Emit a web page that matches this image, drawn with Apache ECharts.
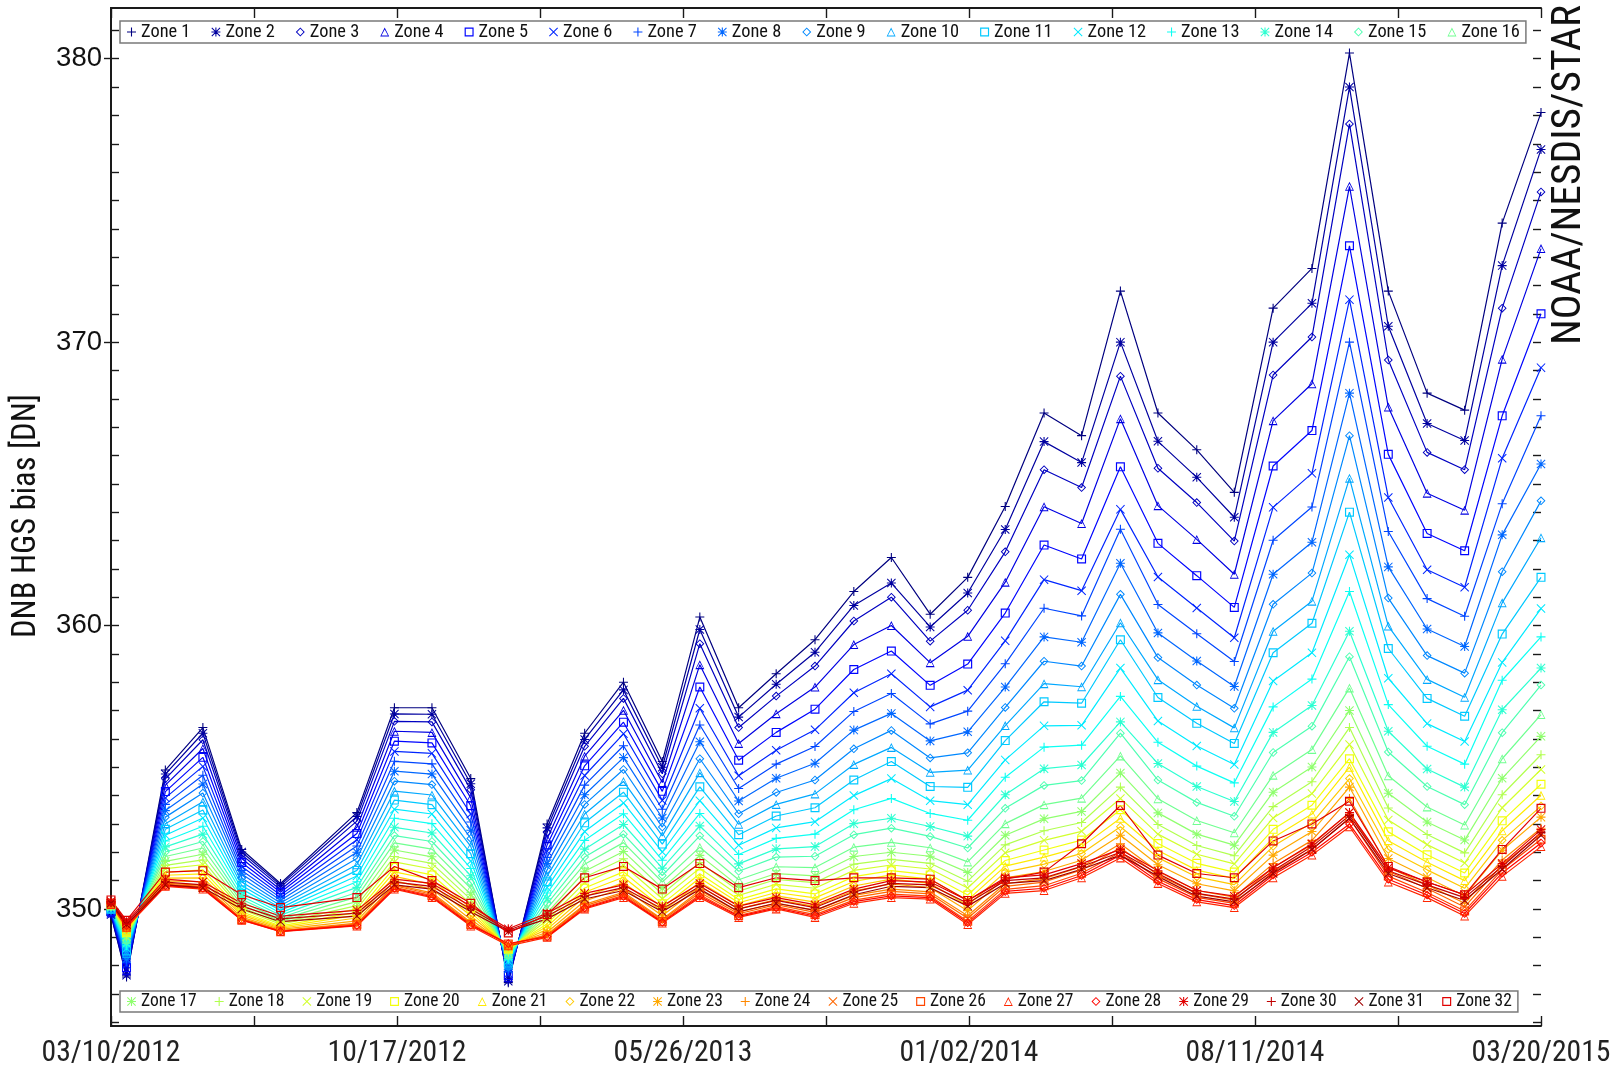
<!DOCTYPE html>
<html>
<head>
<meta charset="utf-8">
<title>DNB HGS bias by zone</title>
<script src="https://cdn.jsdelivr.net/npm/echarts@6/dist/echarts.min.js"></script>
<style>
  html, body { margin: 0; padding: 0; background: #fff; }
  #chart { width: 1614px; height: 1069px; }
</style>
</head>
<body>
<div id="chart"></div>
<script>
// ---- Data: HGS dark-offset bias [DN] per new-moon calibration pass, zones 1..32 ----
const passDates = [
  '2012-03-10','2012-03-22','2012-04-21','2012-05-20','2012-06-19','2012-07-19','2012-09-16',
  '2012-10-15','2012-11-13','2012-12-13','2013-01-11','2013-02-10','2013-03-11','2013-04-10',
  '2013-05-10','2013-06-08','2013-07-08','2013-08-06','2013-09-05','2013-10-05','2013-11-03',
  '2013-12-03','2014-01-01','2014-01-30','2014-03-01','2014-03-30','2014-04-29','2014-05-28',
  '2014-06-27','2014-07-26','2014-08-25','2014-09-24','2014-10-23','2014-11-22','2014-12-22',
  '2015-01-20','2015-02-18','2015-03-20'
];

const b_2012_03_10 = [349.78,349.8,349.85,349.86,349.9,349.91,349.93,349.95,349.96,349.99,350,350.03,350.04,350.06,350.09,350.1,350.11,350.12,350.14,350.15,350.16,350.17,350.18,350.19,350.2,350.21,350.16,350.22,350.26,350.24,350.2,350.32];
const b_2012_03_22 = [347.6,347.66,347.74,347.83,347.93,348.03,348.13,348.23,348.33,348.43,348.52,348.61,348.7,348.79,348.87,348.94,349.01,349.08,349.13,349.18,349.23,349.27,349.32,349.36,349.38,349.4,349.35,349.42,349.55,349.5,349.45,349.6];
const b_2012_04_21 = [354.9,354.76,354.59,354.37,354.14,353.92,353.69,353.47,353.24,353.01,352.81,352.6,352.4,352.19,352.01,351.85,351.68,351.54,351.42,351.29,351.19,351.09,350.99,350.9,350.87,350.84,350.8,350.82,351.05,350.95,350.85,351.3];
const b_2012_05_20 = [356.4,356.2,355.97,355.66,355.35,355.03,354.72,354.41,354.09,353.78,353.49,353.21,352.92,352.64,352.38,352.15,351.93,351.73,351.56,351.38,351.24,351.1,350.96,350.84,350.8,350.76,350.7,350.73,350.95,350.85,350.75,351.35];
const b_2012_06_19 = [352.1,352.01,351.91,351.78,351.64,351.5,351.36,351.23,351.09,350.95,350.83,350.7,350.58,350.45,350.34,350.24,350.14,350.05,349.98,349.9,349.84,349.78,349.71,349.66,349.65,349.63,349.6,349.61,350.2,350.1,350,350.5];
const b_2012_07_19 = [350.9,350.84,350.77,350.68,350.59,350.49,350.4,350.31,350.21,350.12,350.03,349.95,349.86,349.78,349.7,349.63,349.57,349.51,349.46,349.4,349.36,349.32,349.28,349.24,349.23,349.22,349.2,349.21,349.75,349.65,349.55,350.05];
const b_2012_09_16 = [353.4,353.26,353.1,352.88,352.66,352.44,352.22,352,351.78,351.56,351.36,351.16,350.96,350.76,350.58,350.42,350.26,350.12,350,349.88,349.78,349.68,349.58,349.5,349.47,349.44,349.4,349.42,349.95,349.85,349.75,350.4];
const b_2012_10_15 = [357.1,356.88,356.62,356.27,355.92,355.56,355.21,354.86,354.51,354.16,353.84,353.52,353.2,352.88,352.59,352.33,352.08,351.85,351.66,351.47,351.31,351.15,350.99,350.86,350.82,350.76,350.7,350.73,351.05,350.95,350.85,351.5];
const b_2012_11_13 = [357.1,356.87,356.6,356.23,355.86,355.49,355.12,354.76,354.39,354.02,353.68,353.35,353.01,352.68,352.38,352.11,351.84,351.61,351.41,351.2,351.04,350.87,350.7,350.57,350.52,350.47,350.4,350.43,350.9,350.8,350.7,351];
const b_2012_12_13 = [354.6,354.42,354.21,353.92,353.64,353.35,353.07,352.78,352.49,352.21,351.95,351.69,351.43,351.17,350.93,350.73,350.52,350.34,350.18,350.02,349.89,349.76,349.63,349.53,349.49,349.45,349.4,349.43,350.1,350,349.9,350.2];
const b_2013_01_11 = [347.4,347.45,347.5,347.58,347.65,347.72,347.8,347.87,347.95,348.02,348.09,348.16,348.22,348.29,348.35,348.41,348.46,348.51,348.55,348.59,348.62,348.66,348.69,348.72,348.74,348.76,348.7,348.78,349.3,349.25,349.2,349.15];
const b_2013_02_10 = [353,352.86,352.7,352.48,352.26,352.04,351.82,351.6,351.38,351.16,350.96,350.76,350.56,350.36,350.18,350.02,349.86,349.72,349.6,349.48,349.38,349.28,349.18,349.1,349.07,349.04,349,349.02,349.85,349.75,349.65,349.8];
const b_2013_03_11 = [356.2,355.98,355.74,355.39,355.05,354.71,354.37,354.03,353.69,353.35,353.04,352.73,352.42,352.11,351.83,351.58,351.33,351.12,350.93,350.74,350.59,350.43,350.28,350.16,350.11,350.06,350,350.03,350.55,350.45,350.35,351.1];
const b_2013_04_10 = [358,357.73,357.43,357.01,356.59,356.18,355.76,355.34,354.92,354.5,354.12,353.74,353.36,352.98,352.64,352.34,352.03,351.77,351.54,351.31,351.12,350.93,350.74,350.59,350.54,350.48,350.4,350.44,350.85,350.75,350.65,351.5];
const b_2013_05_10 = [355.2,355,354.77,354.46,354.15,353.83,353.52,353.21,352.89,352.58,352.29,352.01,351.72,351.44,351.18,350.95,350.73,350.53,350.36,350.18,350.04,349.9,349.76,349.64,349.6,349.56,349.5,349.53,350.1,350,349.9,350.7];
const b_2013_06_08 = [360.3,359.86,359.36,358.62,357.83,357.08,356.49,355.9,355.3,354.81,354.31,353.82,353.37,352.93,352.58,352.18,351.89,351.64,351.44,351.24,351.09,350.95,350.8,350.65,350.58,350.5,350.4,350.45,350.9,350.8,350.7,351.6];
const b_2013_07_08 = [357.1,356.77,356.4,355.84,355.25,354.7,354.25,353.81,353.36,352.99,352.62,352.25,351.92,351.59,351.33,351.03,350.81,350.63,350.48,350.33,350.22,350.11,350,349.89,349.83,349.77,349.7,349.74,350.1,350,349.9,350.75];
const b_2013_08_06 = [358.3,357.93,357.51,356.89,356.23,355.6,355.11,354.61,354.11,353.69,353.28,352.86,352.49,352.12,351.83,351.49,351.25,351.04,350.87,350.71,350.58,350.46,350.33,350.21,350.15,350.08,350,350.04,350.4,350.3,350.2,351.1];
const b_2013_09_05 = [359.5,359.06,358.57,357.83,357.05,356.32,355.73,355.14,354.55,354.06,353.57,353.08,352.64,352.2,351.86,351.46,351.17,350.93,350.73,350.53,350.39,350.24,350.09,349.95,349.88,349.8,349.7,349.75,350.15,350.05,349.95,351];
const b_2013_10_05 = [361.2,360.71,360.16,359.33,358.45,357.63,356.97,356.31,355.65,355.1,354.55,354,353.5,353.01,352.62,352.18,351.85,351.58,351.36,351.14,350.97,350.81,350.64,350.48,350.4,350.31,350.2,350.26,350.7,350.6,350.5,351.1];
const b_2013_11_03 = [362.4,361.5,361,360,359.1,358.3,357.6,356.9,356.3,355.7,355.2,354.6,353.9,353.2,352.85,352.35,352,351.75,351.55,351.35,351.2,351.05,350.88,350.7,350.62,350.52,350.4,350.46,351,350.9,350.8,351.1];
const b_2013_12_03 = [360.4,359.95,359.45,358.69,357.89,357.13,356.53,355.93,355.33,354.82,354.32,353.82,353.37,352.91,352.56,352.16,351.86,351.61,351.41,351.2,351.05,350.9,350.75,350.6,350.53,350.45,350.35,350.4,350.95,350.85,350.75,351.05];
const b_2014_01_01 = [361.7,361.15,360.54,359.62,358.64,357.72,356.98,356.25,355.51,354.9,354.29,353.68,353.13,352.57,352.15,351.66,351.29,350.98,350.74,350.49,350.31,350.12,349.94,349.76,349.67,349.57,349.45,349.51,350.3,350.2,350.1,350.3];
const b_2014_01_30 = [364.2,363.39,362.6,361.53,360.44,359.46,358.65,357.83,357.11,356.47,355.94,355.26,354.65,354.03,353.55,353.01,352.6,352.26,351.98,351.71,351.51,351.3,351.1,350.89,350.8,350.69,350.55,350.62,351.1,351,350.9,351.05];
const b_2014_03_01 = [367.5,366.49,365.5,364.19,362.84,361.62,360.61,359.6,358.74,357.95,357.31,356.46,355.71,354.95,354.36,353.68,353.18,352.76,352.42,352.08,351.83,351.58,351.32,351.07,350.95,350.82,350.65,350.73,351.2,351.1,351,351.3];
const b_2014_03_30 = [366.7,365.75,364.87,363.6,362.35,361.23,360.34,359.41,358.57,357.84,357.26,356.48,355.78,355.08,354.53,353.91,353.44,353.05,352.74,352.43,352.19,351.96,351.72,351.49,351.38,351.26,351.1,351.18,351.6,351.5,351.4,352.3];
const b_2014_04_29 = [371.8,370,368.8,367.3,365.6,364.1,363.4,362.2,361.1,360.1,359.5,358.5,357.5,356.6,356.2,355.4,354.8,354.3,353.9,353.5,353.2,352.9,352.6,352.3,352.16,352,351.8,351.9,352.1,352,351.9,353.65];
const b_2014_05_28 = [367.5,366.5,365.55,364.23,362.9,361.71,360.74,359.74,358.87,358.09,357.46,356.63,355.88,355.13,354.55,353.89,353.39,352.98,352.64,352.31,352.06,351.81,351.56,351.32,351.2,351.07,350.9,350.98,351.35,351.25,351.15,351.9];
const b_2014_06_27 = [366.2,365.23,364.34,363.04,361.76,360.62,359.71,358.75,357.9,357.15,356.55,355.75,355.04,354.32,353.76,353.12,352.64,352.24,351.93,351.61,351.37,351.13,350.89,350.65,350.54,350.41,350.25,350.33,350.65,350.55,350.45,351.25];
const b_2014_07_26 = [364.7,363.82,362.98,361.81,360.64,359.57,358.73,357.85,357.08,356.39,355.84,355.1,354.45,353.79,353.27,352.69,352.25,351.88,351.59,351.3,351.08,350.86,350.64,350.42,350.31,350.2,350.05,350.12,350.45,350.35,350.25,351.1];
const b_2014_08_25 = [371.2,370,368.84,367.23,365.63,364.17,363.01,361.81,360.75,359.8,359.04,358.04,357.13,356.23,355.52,354.72,354.12,353.61,353.21,352.81,352.51,352.21,351.9,351.6,351.46,351.3,351.1,351.2,351.45,351.35,351.25,352.4];
const b_2014_09_24 = [372.6,371.37,370.18,368.53,366.88,365.37,364.18,362.94,361.85,360.86,360.08,359.04,358.11,357.18,356.45,355.63,355.01,354.49,354.07,353.66,353.35,353.04,352.73,352.42,352.27,352.11,351.9,352,352.3,352.2,352.1,353];
const b_2014_10_23 = [380.2,379,377.7,375.5,373.4,371.5,370,368.2,366.7,365.2,364,362.5,361.2,359.8,358.9,357.8,357,356.4,355.8,355.3,355,354.6,354.3,353.9,353.4,353.2,352.9,353,353.4,353.3,353.2,353.8];
const b_2014_11_22 = [371.8,370.56,369.37,367.71,366.04,364.52,363.32,362.07,360.97,359.98,359.19,358.14,357.21,356.27,355.54,354.7,354.08,353.56,353.14,352.72,352.41,352.1,351.78,351.47,351.33,351.16,350.95,351.05,351.45,351.35,351.25,351.5];
const b_2014_12_22 = [368.2,367.13,366.11,364.67,363.25,361.97,360.95,359.88,358.94,358.1,357.43,356.54,355.74,354.94,354.32,353.6,353.07,352.63,352.27,351.91,351.65,351.38,351.11,350.85,350.72,350.58,350.4,350.49,350.95,350.85,350.75,350.95];
const b_2015_01_20 = [367.6,366.53,365.5,364.07,362.64,361.35,360.33,359.26,358.32,357.47,356.8,355.91,355.11,354.3,353.68,352.96,352.43,351.98,351.62,351.27,351,350.73,350.46,350.2,350.07,349.93,349.75,349.84,350.5,350.4,350.3,350.5];
const b_2015_02_18 = [374.2,372.7,371.2,369.4,367.4,365.9,364.3,363.2,361.9,360.8,359.7,358.7,358.07,357.03,356.22,355.3,354.61,354.03,353.57,353.11,352.76,352.42,352.07,351.73,351.56,351.38,351.15,351.27,351.6,351.5,351.4,352.1];
const b_2015_03_20 = [378.1,376.8,375.3,373.3,371,369.1,367.4,365.7,364.4,363.1,361.7,360.6,359.6,358.5,357.9,356.86,356.09,355.44,354.92,354.4,354.01,353.63,353.24,352.85,352.67,352.46,352.2,352.33,352.8,352.7,352.6,353.55];

const passRows = [
  b_2012_03_10, b_2012_03_22, b_2012_04_21, b_2012_05_20, b_2012_06_19, b_2012_07_19, b_2012_09_16,
  b_2012_10_15, b_2012_11_13, b_2012_12_13, b_2013_01_11, b_2013_02_10, b_2013_03_11, b_2013_04_10,
  b_2013_05_10, b_2013_06_08, b_2013_07_08, b_2013_08_06, b_2013_09_05, b_2013_10_05, b_2013_11_03,
  b_2013_12_03, b_2014_01_01, b_2014_01_30, b_2014_03_01, b_2014_03_30, b_2014_04_29, b_2014_05_28,
  b_2014_06_27, b_2014_07_26, b_2014_08_25, b_2014_09_24, b_2014_10_23, b_2014_11_22, b_2014_12_22,
  b_2015_01_20, b_2015_02_18, b_2015_03_20
];

const zoneNames = Array.from({ length: 32 }, (_, i) => 'Zone ' + (i + 1));
const zoneMarkers = [
  'plus','star','diamond','triangle','square','cross','plus','star','diamond','triangle','square','cross',
  'plus','star','diamond','triangle','star','plus','cross','square','triangle','diamond','star','plus',
  'cross','square','triangle','diamond','star','plus','cross','square'
];
const zoneColors = [
  '#000080','#0000a0','#0000c1','#0000e2','#0004ff','#0025ff','#0046ff','#0067ff',
  '#0088ff','#00a8ff','#00c9ff','#00eaff','#0cfff3','#2dffd2','#4effb1','#6fff90',
  '#90ff6f','#b1ff4e','#d2ff2d','#f3ff0c','#ffea00','#ffc900','#ffa800','#ff8800',
  '#ff6700','#ff4600','#ff2500','#ff0400','#e20000','#c10000','#a00000','#e00000'
];

// ---- Axis ranges ----
const axisStart = '2012-03-10';
const axisEnd = '2015-03-20';
const Y_MIN = 345.87, Y_MAX = 381.79;

// ---- Helpers ----
const DAY = 86400000;
const START = Date.parse(axisStart + 'T00:00:00Z');
const dayOf = s => Math.round((Date.parse(s + 'T00:00:00Z') - START) / DAY);
const X_SPAN = dayOf(axisEnd);
const pad2 = n => String(n).padStart(2, '0');
const fmtDate = v => {
  const d = new Date(START + Math.round(v) * DAY);
  return pad2(d.getUTCMonth() + 1) + '/' + pad2(d.getUTCDate()) + '/' + d.getUTCFullYear();
};

// Hollow IDL-style plot symbols (outer ring + reversed inner ring leaves a hole)
const MARKER_PATHS = {
  plus: 'path://M44,0H56V44H100V56H56V100H44V56H0V44H44Z',
  cross: 'path://M0,8L8,0L50,42L92,0L100,8L58,50L100,92L92,100L50,58L8,100L0,92L42,50Z',
  star: 'path://M44,0H56V44H100V56H56V100H44V56H0V44H44Z M0,8L8,0L50,42L92,0L100,8L58,50L100,92L92,100L50,58L8,100L0,92L42,50Z',
  square: 'path://M0,0L100,0L100,100L0,100Z M13,13L13,87L87,87L87,13Z',
  diamond: 'path://M50,0L100,50L50,100L0,50Z M50,15L15,50L50,85L85,50Z',
  triangle: 'path://M50,0L100,100L0,100Z M50,23L14,88L86,88Z'
};

// Pick a condensed face if one is installed; size text by its target width
const measureCtx = document.createElement('canvas').getContext('2d');
function fontAvailable(family) {
  const s = 'Zone 03/10/2012 NOAA';
  const out = [];
  for (const base of ['monospace', 'serif']) {
    measureCtx.font = '48px ' + base;
    const a = measureCtx.measureText(s).width;
    measureCtx.font = '48px "' + family + '", ' + base;
    const b = measureCtx.measureText(s).width;
    out.push(Math.abs(a - b) > 0.5);
  }
  return out[0] || out[1];
}
const NARROW = ['Liberation Sans Narrow', 'Arial Narrow', 'Roboto Condensed', 'DejaVu Sans Condensed', 'Liberation Sans']
  .find(fontAvailable) || 'sans-serif';
function sizeForWidth(text, family, width) {
  measureCtx.font = '100px "' + family + '"';
  return 100 * width / measureCtx.measureText(text).width;
}
const legendTopSize = sizeForWidth('Zone 10', NARROW, 58.5);
const legendBottomSize = sizeForWidth('Zone 17', NARROW, 55.7);
const xLabelSize = sizeForWidth('03/10/2012', NARROW, 139);
const yTitleSize = sizeForWidth('DNB HGS bias [DN]', NARROW, 244);
const creditSize = sizeForWidth('NOAA/NESDIS/STAR', NARROW, 340);

// ---- Layout ----
const FRAME = '#1a1a1a';
const PLOT = { left: 111, top: 8, width: 1430, height: 1018 };
const yPix = v => PLOT.top + (Y_MAX - v) / (Y_MAX - Y_MIN) * PLOT.height;
const gridBase = { left: PLOT.left, width: PLOT.width, containLabel: false, outerBoundsMode: 'none' };
const grids = [
  Object.assign({}, gridBase, { top: PLOT.top, height: PLOT.height }),
  Object.assign({}, gridBase, { top: yPix(381), height: yPix(346) - yPix(381) }),
  Object.assign({}, gridBase, { top: yPix(380), height: yPix(350) - yPix(380) })
];

const isMajorDay = v => Math.abs(v / (X_SPAN / 5) - Math.round(v / (X_SPAN / 5))) < 1e-6;

const xAxes = [
  {
    gridIndex: 0, type: 'value', position: 'bottom', min: 0, max: X_SPAN, interval: X_SPAN / 10,
    axisLine: { show: true, lineStyle: { color: FRAME, width: 2 } },
    axisTick: { show: true, inside: true, length: 10, lineStyle: { color: FRAME, width: 1.4 } },
    axisLabel: {
      show: true, margin: 13, color: '#222', fontFamily: NARROW, fontSize: xLabelSize,
      showMinLabel: true, showMaxLabel: true, hideOverlap: false,
      formatter: v => (isMajorDay(v) ? fmtDate(v) : '')
    },
    splitLine: { show: false }
  },
  {
    gridIndex: 0, type: 'value', position: 'top', min: 0, max: X_SPAN, interval: X_SPAN / 10,
    axisLine: { show: true, lineStyle: { color: FRAME, width: 2 } },
    axisTick: { show: true, inside: true, length: 10, lineStyle: { color: FRAME, width: 1.4 } },
    axisLabel: { show: false }, splitLine: { show: false }
  },
  { gridIndex: 1, type: 'value', min: 0, max: 1, show: false },
  { gridIndex: 2, type: 'value', min: 0, max: 1, show: false }
];

const yAxes = [
  {
    gridIndex: 0, type: 'value', position: 'left', min: Y_MIN, max: Y_MAX,
    axisLine: { show: true, lineStyle: { color: FRAME, width: 2 } },
    axisTick: { show: false }, axisLabel: { show: false }, splitLine: { show: false }
  },
  {
    gridIndex: 0, type: 'value', position: 'right', min: Y_MIN, max: Y_MAX,
    axisLine: { show: true, lineStyle: { color: FRAME, width: 2 } },
    axisTick: { show: false }, axisLabel: { show: false }, splitLine: { show: false }
  },
  {
    gridIndex: 1, type: 'value', position: 'left', min: 346, max: 381, interval: 1,
    axisLine: { show: false },
    axisTick: { show: true, inside: true, length: 8, lineStyle: { color: FRAME, width: 1.4 } },
    axisLabel: { show: false }, splitLine: { show: false }
  },
  {
    gridIndex: 1, type: 'value', position: 'right', min: 346, max: 381, interval: 1,
    axisLine: { show: false },
    axisTick: { show: true, inside: true, length: 8, lineStyle: { color: FRAME, width: 1.4 } },
    axisLabel: { show: false }, splitLine: { show: false }
  },
  {
    gridIndex: 2, type: 'value', position: 'left', min: 350, max: 380, interval: 10,
    axisLine: { show: false },
    axisTick: { show: true, inside: false, length: 7, lineStyle: { color: FRAME, width: 1.4 } },
    axisLabel: { show: true, margin: 9, color: '#111', fontFamily: 'Liberation Sans', fontSize: 27.5 },
    splitLine: { show: false }
  }
];

const series = zoneNames.map((name, k) => ({
  name,
  type: 'line',
  xAxisIndex: 0,
  yAxisIndex: 0,
  data: passDates.map((d, i) => [dayOf(d), passRows[i][k]]),
  symbol: MARKER_PATHS[zoneMarkers[k]],
  symbolSize: 9,
  showSymbol: true,
  showAllSymbol: true,
  lineStyle: { color: zoneColors[k], width: 1.2 },
  itemStyle: { color: zoneColors[k], borderWidth: 0 },
  emphasis: { disabled: true },
  silent: true,
  z: 2
}));

function legendBlock(names, top, gap, size) {
  return {
    show: true, orient: 'horizontal', left: 120, top,
    padding: [2, 6, 2, 7], itemGap: gap, itemWidth: 9, itemHeight: 9,
    borderColor: '#7a7a7a', borderWidth: 1.5, backgroundColor: '#fff',
    selectedMode: false,
    textStyle: { color: '#111', fontFamily: NARROW, fontSize: size, lineHeight: 15 },
    data: names.map(n => ({ name: n, icon: MARKER_PATHS[zoneMarkers[zoneNames.indexOf(n)]] })),
    z: 5
  };
}

const option = {
  animation: false,
  backgroundColor: '#fff',
  textStyle: { fontFamily: NARROW },
  grid: grids,
  xAxis: xAxes,
  yAxis: yAxes,
  legend: [
    legendBlock(zoneNames.slice(0, 16), 21, 21, legendTopSize),
    legendBlock(zoneNames.slice(16), 991, 18, legendBottomSize)
  ],
  graphic: [
    {
      type: 'text', x: 27, y: 516, rotation: Math.PI / 2, silent: true,
      style: {
        text: 'DNB HGS bias [DN]', fill: '#111', fontFamily: NARROW, fontSize: yTitleSize,
        align: 'center', verticalAlign: 'middle'
      }
    },
    {
      type: 'text', x: 1570, y: 175, rotation: Math.PI / 2, silent: true,
      style: {
        text: 'NOAA/NESDIS/STAR', fill: '#111', fontFamily: NARROW, fontSize: creditSize,
        align: 'center', verticalAlign: 'middle'
      }
    }
  ],
  series
};

const chart = echarts.init(document.getElementById('chart'), null, { renderer: 'canvas' });
chart.setOption(option);
</script>
</body>
</html>
